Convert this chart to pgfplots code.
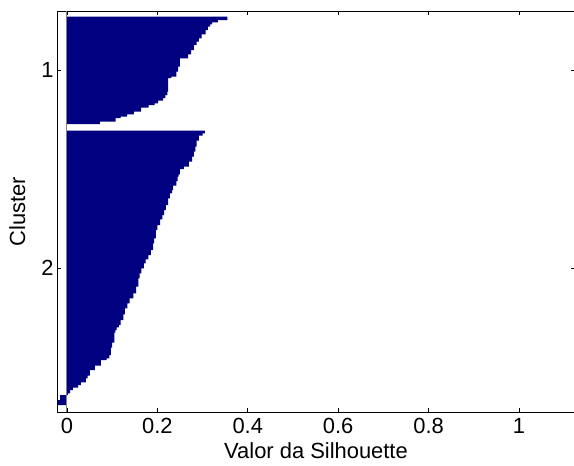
\documentclass[border=0pt]{standalone}
\usepackage{fontspec}
\setmainfont{Liberation Sans}
\usepackage{pgfplots}
\pgfplotsset{compat=1.18}
\usetikzlibrary{calc}
\definecolor{silblue}{rgb}{0.0,0.0,0.5}

\begin{document}
\begin{tikzpicture}
\begin{axis}[
    scale only axis,
    width=518bp, height=401bp,
    xmin=-0.0219, xmax=1.1239,
    ymin=-5.7, ymax=395.3,
    y dir=reverse,
    xtick={0,0.2,0.4,0.6,0.8,1},
    xticklabels={0,0.2,0.4,0.6,0.8,1},
    ytick={53.5,251.2},
    yticklabels={1,2},
    y tick label as interval=false,
    tick align=inside,
    major tick length=4bp,
    tick style={black, line width=0.6bp},
    axis line style={black, line width=0.8bp},
    ticklabel style={font=\fontsize{22}{26}\selectfont},
    label style={font=\fontsize{22}{26}\selectfont},
    xticklabel shift=3bp,
    xlabel shift=2bp,
    ylabel shift=9bp,
    /pgf/number format/assume math mode=true,
    xlabel={Valor da Silhouette},
    ylabel={Cluster},
    clip=false,
]
% cluster 1: (silhouette value, first row of the step)
\addplot[xbar interval, fill=silblue, draw=none] coordinates {
    (0.355,0) (0.334,3.3) (0.321,5.6) (0.317,7.6) (0.312,10)
    (0.307,13.3) (0.298,17.6) (0.292,21.6) (0.287,25) (0.281,28.3)
    (0.275,33.3) (0.268,37.6) (0.250,41.6) (0.246,50) (0.242,55)
    (0.231,60) (0.224,61.3) (0.222,75) (0.218,78.3) (0.213,81.3)
    (0.202,84) (0.194,86.6) (0.181,88.3) (0.164,91) (0.148,95)
    (0.133,97.6) (0.119,100) (0.108,101.3) (0.073,105) (0,107.3)
};
% cluster 2
\addplot[xbar interval, fill=silblue, draw=none] coordinates {
    (0.305,114) (0.300,116.6) (0.292,119) (0.287,124) (0.284,130)
    (0.281,135) (0.277,140) (0.270,145) (0.259,150) (0.250,152.3)
    (0.247,157.6) (0.245,160) (0.242,164.3) (0.235,169) (0.233,173.3)
    (0.228,176.6) (0.224,181.6) (0.219,188.3) (0.215,193.3) (0.211,198.3)
    (0.206,202.6) (0.200,208.3) (0.197,213.3) (0.193,221.6) (0.191,226.6)
    (0.186,233.3) (0.180,238.3) (0.174,242.6) (0.170,246.6) (0.165,251.6)
    (0.161,256.6) (0.158,261.6) (0.153,270) (0.147,276.6) (0.139,281.6)
    (0.134,286.6) (0.128,291.6) (0.125,297.6) (0.119,303.3) (0.115,308.3)
    (0.110,310.6) (0.107,313.3) (0.105,316) (0.100,326) (0.097,331)
    (0.094,338.3) (0.088,341.6) (0.075,343.3) (0.062,349) (0.051,353.3)
    (0.046,359) (0.042,361.6) (0.031,365.6) (0.025,368.3) (0.013,371)
    (0.007,373.3) (0.002,376.6) (-0.015,378.3) (-0.021,383.3) (0,388.3)
};
% baseline at zero
\addplot[gray, line width=0.8bp] coordinates {(0,-5.7) (0,395.3)};
\end{axis}
\pgfresetboundingbox
\path ($(current axis.south west)+(-57bp,-54bp)$) rectangle ($(current axis.north east)+(-1bp,11bp)$);
\end{tikzpicture}
\end{document}
